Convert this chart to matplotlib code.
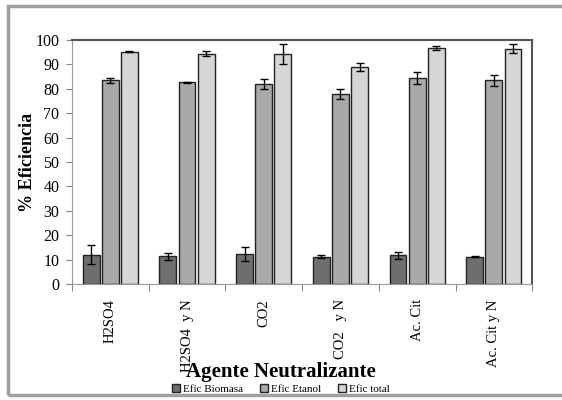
import matplotlib.pyplot as plt
import numpy as np
from matplotlib.patches import Rectangle

plt.rcParams['font.family'] = ['Liberation Serif', 'DejaVu Serif']

# Datos
agentes = ['H2SO4', 'H2SO4  y N', 'CO2', 'CO2   y N', 'Ac. Cit', 'Ac. Cit y N']
biomasa = [12.0, 11.3, 12.3, 11.2, 11.8, 11.2]
biomasa_err = [4.0, 1.3, 3.0, 0.7, 1.5, 0.3]
etanol = [83.5, 82.7, 82.0, 78.0, 84.5, 83.5]
etanol_err = [1.0, 0.2, 2.0, 2.0, 2.5, 2.2]
total = [95.2, 94.3, 94.3, 89.0, 96.7, 96.5]
total_err = [0.3, 1.0, 4.0, 1.5, 1.0, 1.7]

series = ['Efic Biomasa', 'Efic Etanol', 'Efic total']
colores = ['#6e6e6e', '#a9a9a9', '#d6d6d6']

fig = plt.figure(figsize=(5.62, 4.0), dpi=100)
ax = fig.add_axes([0.128, 0.29, 0.819, 0.61])

x = np.arange(len(agentes))
w = 0.22
off = 0.25
for i, (vals, errs) in enumerate([(biomasa, biomasa_err), (etanol, etanol_err), (total, total_err)]):
    ax.bar(x + (i - 1) * off, vals, w, color=colores[i], edgecolor='#222222',
           linewidth=1.0, label=series[i], zorder=2)
    ax.errorbar(x + (i - 1) * off, vals, yerr=errs, fmt='none', ecolor='black',
                elinewidth=1.0, capsize=3, capthick=1.0, zorder=3)

ax.set_xlim(-0.5, len(agentes) - 0.5)
ax.set_ylim(0, 100)
ax.set_yticks(range(0, 101, 10))
ax.set_xticks(np.arange(len(agentes) + 1) - 0.5, minor=False)
ax.set_xticklabels([])
ax.set_xticks(x, minor=True)
ax.set_xticklabels(agentes, minor=True, rotation=90, fontsize=10.5)
ax.tick_params(axis='x', which='minor', length=0, pad=11)
ax.tick_params(axis='x', which='major', length=5, color='#888888', direction='out')
ax.tick_params(axis='y', length=4, color='#888888', labelsize=11.5, pad=5)

for s in ['left', 'bottom']:
    ax.spines[s].set_color('#999999')
for s in ['top', 'right']:
    ax.spines[s].set_color('#555555')
    ax.spines[s].set_linewidth(1.5)

ax.set_ylabel('% Eficiencia', fontsize=13, fontweight='bold')
ax.yaxis.set_label_coords(-0.078, 0.5)
fig.text(0.5, 0.07, 'Agente Neutralizante', ha='center', va='center',
         fontsize=15, fontweight='bold')

handles = [plt.Rectangle((0, 0), 1, 1, facecolor=c, edgecolor='#222222') for c in colores]
fig.legend(handles, series, loc='center', bbox_to_anchor=(0.5, 0.028), ncol=3,
           frameon=False, fontsize=8, handlelength=0.7, handleheight=0.7,
           handletextpad=0.3, columnspacing=1.5)

# Marco exterior
fig.patches.append(Rectangle((0.014, 0.012), 1.1, 0.972, transform=fig.transFigure,
                             fill=False, edgecolor='#a0a0a0', linewidth=2.5))

fig.savefig('out.png', dpi=100)
